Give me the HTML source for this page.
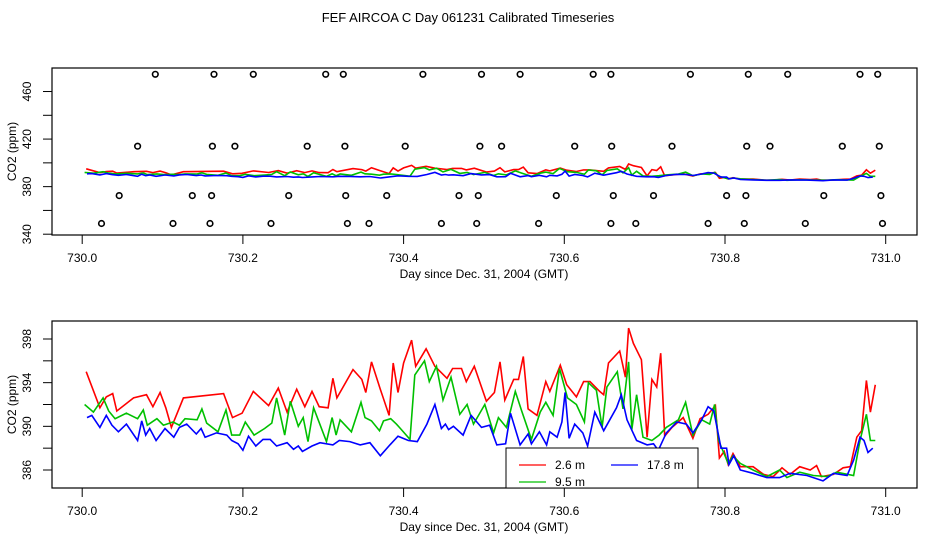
<!DOCTYPE html>
<html><head><meta charset="utf-8"><style>
body{margin:0;background:#fff;}
svg{display:block;font-family:"Liberation Sans",sans-serif;}
</style></head><body>
<svg id="chart" width="936" height="540" viewBox="0 0 936 540">
<text x="468" y="22" text-anchor="middle" font-size="13">FEF AIRCOA C  Day 061231  Calibrated Timeseries</text>
<g id="top"></g>
<g id="bot"></g>
</svg>
<script>
const redX=[730.005,730.022,730.030,730.038,730.043,730.064,730.080,730.088,730.097,730.104,730.111,730.126,730.176,730.187,730.199,730.213,730.232,730.244,730.255,730.267,730.277,730.286,730.295,730.306,730.312,730.317,730.337,730.348,730.353,730.360,730.371,730.382,730.387,730.393,730.400,730.410,730.415,730.428,730.439,730.454,730.461,730.472,730.478,730.488,730.503,730.513,730.520,730.526,730.537,730.543,730.549,730.555,730.566,730.577,730.582,730.595,730.603,730.615,730.624,730.632,730.644,730.649,730.655,730.669,730.676,730.680,730.686,730.696,730.703,730.709,730.715,730.720,730.725,730.734,730.748,730.760,730.769,730.779,730.788,730.793,730.799,730.804,730.810,730.819,730.835,730.848,730.860,730.871,730.881,730.893,730.906,730.914,730.920,730.935,730.947,730.956,730.964,730.970,730.976,730.981,730.987];
const redY=[395.0,391.7,392.7,393.0,391.4,392.6,392.9,391.8,393.1,391.7,389.9,392.6,393.0,390.8,391.2,393.2,391.9,393.5,391.3,393.4,391.8,393.2,391.8,391.7,394.4,392.6,395.2,394.3,393.1,395.9,393.4,391.0,395.8,393.1,395.8,397.9,395.5,397.1,395.5,394.4,395.3,395.3,394.1,395.5,392.3,393.1,395.9,392.4,394.3,394.3,396.4,391.6,391.0,394.1,393.2,395.6,393.8,392.7,394.1,394.1,393.2,392.9,395.8,396.9,394.5,399.0,397.6,396.1,389.0,394.3,393.6,396.7,389.1,389.9,390.8,388.9,390.7,391.1,391.9,387.1,387.7,386.5,387.5,386.3,386.3,385.6,385.4,386.2,385.6,386.3,386.0,386.4,385.4,385.6,386.2,386.3,389.0,389.6,394.2,391.3,393.8];
const greenX=[730.003,730.014,730.026,730.033,730.041,730.055,730.069,730.076,730.081,730.093,730.101,730.113,730.121,730.128,730.143,730.149,730.155,730.169,730.179,730.186,730.196,730.203,730.214,730.227,730.236,730.242,730.252,730.259,730.269,730.275,730.281,730.288,730.304,730.311,730.316,730.321,730.335,730.347,730.352,730.360,730.370,730.375,730.384,730.391,730.396,730.408,730.414,730.426,730.432,730.441,730.449,730.459,730.470,730.479,730.487,730.501,730.512,730.518,730.528,730.539,730.547,730.559,730.570,730.577,730.586,730.594,730.604,730.615,730.625,730.630,730.640,730.647,730.653,730.666,730.673,730.680,730.684,730.690,730.698,730.709,730.718,730.727,730.742,730.751,730.760,730.771,730.781,730.787,730.792,730.804,730.810,730.819,730.835,730.852,730.868,730.877,730.893,730.910,730.927,730.939,730.960,730.968,730.976,730.981,730.987];
const greenY=[392.0,391.3,392.6,391.4,390.7,391.2,390.7,391.5,390.1,390.7,390.1,390.4,390.1,390.7,390.6,391.6,390.3,389.5,391.5,389.2,389.2,390.4,389.2,389.8,390.3,392.6,389.2,392.3,390.0,390.8,388.6,391.7,388.6,390.8,389.2,390.6,389.5,392.2,390.8,390.5,389.6,390.5,390.7,390.2,389.8,388.8,394.7,396.0,394.1,395.5,392.4,394.5,391.1,392.0,390.2,392.0,389.4,390.8,389.9,393.2,391.4,388.8,391.3,392.2,391.0,395.3,392.6,392.0,390.4,394.0,393.3,389.9,393.6,395.0,391.6,395.9,389.7,392.9,389.0,388.7,389.2,389.9,390.6,392.2,389.2,390.6,390.2,392.0,388.7,386.6,387.3,386.6,386.0,385.4,386.0,385.3,385.8,385.5,385.4,385.8,385.5,388.7,391.1,388.7,388.7];
const blueX=[730.006,730.012,730.022,730.030,730.037,730.045,730.055,730.069,730.074,730.079,730.084,730.092,730.103,730.114,730.121,730.130,730.142,730.148,730.153,730.167,730.180,730.186,730.194,730.200,730.207,730.216,730.225,730.234,730.242,730.255,730.263,730.269,730.274,730.286,730.296,730.312,730.320,730.333,730.346,730.358,730.371,730.383,730.393,730.406,730.417,730.429,730.439,730.447,730.452,730.456,730.462,730.474,730.484,730.497,730.507,730.516,730.527,730.533,730.545,730.555,730.559,730.569,730.578,730.582,730.591,730.597,730.601,730.606,730.613,730.623,730.629,730.638,730.649,730.665,730.671,730.678,730.690,730.703,730.711,730.717,730.727,730.740,730.752,730.760,730.771,730.779,730.786,730.795,730.802,730.805,730.811,730.819,730.835,730.852,730.868,730.881,730.902,730.922,730.935,730.952,730.960,730.968,730.973,730.978,730.984];
const blueY=[390.8,391.0,389.9,391.0,390.1,389.5,390.2,388.7,390.5,389.2,389.8,388.7,389.8,389.0,389.9,390.2,389.3,389.8,389.0,389.4,389.2,388.7,388.4,387.8,389.1,388.2,388.8,388.8,388.2,388.5,387.9,388.2,387.7,388.2,388.5,388.3,388.7,388.6,388.3,388.5,387.3,388.3,389.1,388.7,388.6,390.2,392.0,389.8,390.2,389.7,390.0,389.2,391.0,389.9,390.1,388.3,388.4,391.2,388.3,389.3,388.4,389.5,388.3,389.5,389.0,390.4,393.1,388.9,390.2,389.4,388.2,391.3,389.6,391.7,392.9,390.6,388.7,388.3,388.4,387.8,389.4,390.4,390.2,389.4,390.6,391.8,391.4,388.0,388.0,386.5,387.3,386.0,385.7,385.3,385.3,385.7,385.5,385.0,385.7,385.5,386.9,389.0,388.7,387.6,388.0];
const flagX=[730.091,730.164,730.213,730.303,730.325,730.424,730.497,730.545,730.636,730.658,730.757,730.829,730.878,730.968,730.990,
730.069,730.162,730.190,730.280,730.327,730.402,730.495,730.522,730.613,730.659,730.734,730.827,730.856,730.946,730.992,
730.046,730.137,730.161,730.257,730.328,730.379,730.469,730.493,730.590,730.661,730.711,730.802,730.826,730.923,730.994,
730.024,730.113,730.159,730.235,730.330,730.357,730.447,730.491,730.568,730.658,730.689,730.779,730.824,730.900,730.996];
const flagY=[474.5,474.5,474.5,474.5,474.5,474.5,474.5,474.5,474.5,474.5,474.5,474.5,474.5,474.5,474.5,
414,414,414,414,414,414,414,414,414,414,414,414,414,414,414,
372.5,372.5,372.5,372.5,372.5,372.5,372.5,372.5,372.5,372.5,372.5,372.5,372.5,372.5,372.5,
349,349,349,349,349,349,349,349,349,349,349,349,349,349,349];
const xTicks=[730.0,730.2,730.4,730.6,730.8,731.0];
const topYTicks=[340,360,380,400,420,440,460];
const topYLabels=[340,380,420,460];
const botYTicks=[386,388,390,392,394,396,398];
const botYLabels=[386,390,394,398];

const NS='http://www.w3.org/2000/svg';
function mk(tag,attrs,parent){const e=document.createElementNS(NS,tag);for(const k in attrs)e.setAttribute(k,attrs[k]);parent.appendChild(e);return e;}
const xs=d=>82.2+(d-730)*803.5;

function panel(g,top,bottom,y0,y0px,scale,yt,yl,withFlags,clipId){
  const ys=v=>y0px-(v-y0)*scale;
  const defs=mk('defs',{},g);
  const cp=mk('clipPath',{id:clipId},defs);
  mk('rect',{x:52,y:top,width:865,height:bottom-top},cp);
  const series=[[redX,redY,'#ff0000','series-2-6m'],[greenX,greenY,'#00c000','series-9-5m'],[blueX,blueY,'#0000ff','series-17-8m']];
  series.forEach(s=>{
    const pts=s[0].map((x,i)=>xs(x).toFixed(1)+','+ys(s[1][i]).toFixed(1)).join(' ');
    const pl=mk('polyline',{points:pts,fill:'none',stroke:s[2],'stroke-width':1.6,'clip-path':'url(#'+clipId+')'},g);
    
    
  });
  if(withFlags){
    flagX.forEach((x,i)=>{
      const c=mk('circle',{cx:xs(x).toFixed(1),cy:ys(flagY[i]).toFixed(1),r:2.8,fill:'none',stroke:'#000','stroke-width':1.6},g);
      
      
    });
  }
  const box=mk('rect',{x:52,y:top,width:865,height:bottom-top,fill:'none',stroke:'#000','stroke-width':1.2},g);
  
  
  xTicks.forEach(t=>{
    mk('line',{x1:xs(t),x2:xs(t),y1:bottom,y2:bottom+9,stroke:'#000'},g);
    const tx=mk('text',{x:xs(t),y:bottom+27,'text-anchor':'middle','font-size':12},g);
    tx.textContent=t.toFixed(1);
    
    
  });
  yt.forEach(t=>{mk('line',{x1:43,x2:52,y1:ys(t),y2:ys(t),stroke:'#000'},g);});
  yl.forEach(t=>{
    const tx=mk('text',{x:0,y:0,'text-anchor':'middle','font-size':12,transform:'translate(31,'+ys(t)+') rotate(-90)'},g);
    tx.textContent=t;
    
    
  });
  const xt=mk('text',{x:484,y:bottom+43,'text-anchor':'middle','font-size':12},g);
  xt.textContent='Day since Dec. 31, 2004 (GMT)';
  
  
  const yT=mk('text',{x:0,y:0,'text-anchor':'middle','font-size':12,transform:'translate(16,'+((top+bottom)/2)+') rotate(-90)'},g);
  yT.textContent='CO2 (ppm)';
  
  
}
panel(document.getElementById('top'),68,235,340,234.2,1.189,topYTicks,topYLabels,true,'c1');
panel(document.getElementById('bot'),321,488,386,470,10.917,botYTicks,botYLabels,false,'c2');

const bg=document.getElementById('bot');
const lg=mk('g',{},bg);


mk('rect',{x:506,y:448,width:192,height:40,fill:'#fff',stroke:'#000','stroke-width':1},lg);
[[519,465,'#ff0000','2.6 m'],[519,482,'#00c000','9.5 m'],[611,465,'#0000ff','17.8 m']].forEach(e=>{
  mk('line',{x1:e[0],x2:e[0]+27,y1:e[1],y2:e[1],stroke:e[2],'stroke-width':1.2},lg);
  const t=mk('text',{x:e[0]+36,y:e[1]+4,'font-size':12},lg);
  t.textContent=e[3];
  
  
});
</script>
</body></html>
